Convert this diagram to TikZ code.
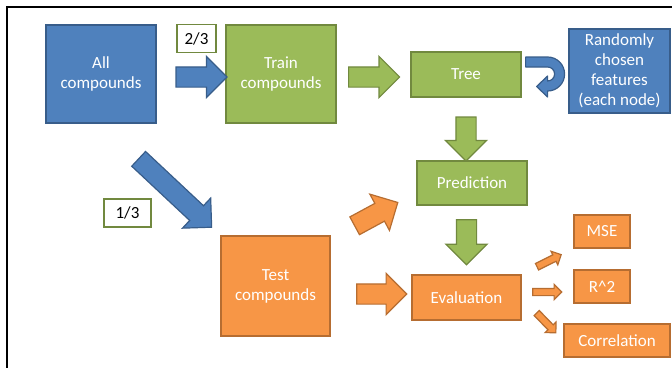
\documentclass[tikz,border=0pt]{standalone}
\usepackage{fontspec}
\setmainfont{Carlito}
\usetikzlibrary{shapes.arrows}

\definecolor{fillblue}{HTML}{4F81BD}
\definecolor{lineblue}{HTML}{385D8A}
\definecolor{fillgreen}{HTML}{9BBB59}
\definecolor{linegreen}{HTML}{71893F}
\definecolor{fillorange}{HTML}{F79646}
\definecolor{lineorange}{HTML}{B66D31}

\begin{document}
\begin{tikzpicture}[x=1pt, y=-1pt,
    box/.style={draw, line width=1.2pt, text=white, align=center, inner sep=0pt, font=\fontsize{17}{20}\selectfont},
    bluebox/.style={box, fill=fillblue, draw=lineblue},
    greenbox/.style={box, fill=fillgreen, draw=linegreen},
    orangebox/.style={box, fill=fillorange, draw=lineorange},
    frac/.style={draw=linegreen, line width=1.2pt, fill=white, inner sep=0pt, font=\fontsize{17}{20}\selectfont},
    barrow/.style={single arrow, sloped, allow upside down, inner xsep=0pt, inner ysep=9.5pt,
      single arrow head extend=10.5pt, line width=1.2pt},
    sarrow/.style={barrow, inner ysep=3pt, single arrow head extend=4pt},
    blue/.style={fill=fillblue, draw=lineblue},
    green/.style={fill=fillgreen, draw=linegreen},
    orange/.style={fill=fillorange, draw=lineorange}
  ]
    \useasboundingbox (0,0) rectangle (672,368);
    \draw[line width=1.6pt] (672,7) -- (7,7) -- (7,368);

    \node[bluebox, minimum width=110, minimum height=98] (all) at (101,74) {All\\compounds};
    \node[greenbox, minimum width=110, minimum height=98] (train) at (281,74) {Train\\compounds};
    \node[greenbox, minimum width=110, minimum height=45] (tree) at (466,74.5) {Tree};
    \node[bluebox, minimum width=101, minimum height=84] (feat) at (619.5,71) {Randomly\\chosen\\features\\(each node)};
    \node[greenbox, minimum width=110, minimum height=44] (pred) at (472,183) {Prediction};
    \node[orangebox, minimum width=109, minimum height=100] (test) at (275.5,286) {Test\\compounds};
    \node[orangebox, minimum width=109, minimum height=45] (eval) at (466.5,297.5) {Evaluation};
    \node[orangebox, minimum width=56, minimum height=33] (mse) at (602,231.5) {MSE};
    \node[orangebox, minimum width=56, minimum height=33] (rsq) at (602,286.5) {R\^{}2};
    \node[orangebox, minimum width=106, minimum height=33] (corr) at (617,340.5) {Correlation};

    \node[frac, minimum width=39, minimum height=28] (twothirds) at (196.5,38.5) {2/3};
    \node[frac, minimum width=47, minimum height=28] (onethird) at (127.5,213) {1/3};

    \path ([yshift=-3pt]all.east) -- ([yshift=-3pt]train.west)
      node[barrow, blue, pos=0.58, minimum height=51] (split) {};
    \path (all.south) -- (test.north west)
      node[barrow, blue, pos=0.59, minimum height=100] (hold) {};
    \path ([yshift=-3pt]train.east) -- ([yshift=-3pt]train.east -| tree.west)
      node[barrow, green, pos=0.44, minimum height=51] (grow) {};
    \path (tree.south) -- (tree.south |- pred.north)
      node[barrow, green, pos=0.58, minimum height=44] (apply) {};
    \path (eval.north |- pred.south) -- (eval.north)
      node[barrow, green, pos=0.46, minimum height=45] (score) {};
    \path ([yshift=3.5pt]eval.west -| test.east) -- ([yshift=3.5pt]eval.west)
      node[barrow, orange, pos=0.57, minimum height=50] (truth) {};
    \path ([yshift=-3.4pt]test.north east) -- ([yshift=-9.4pt]pred.west)
      node[barrow, orange, pos=0.48, minimum height=49] (input) {};

    \path (eval.north east) -- (mse.south west)
      node[sarrow, orange, pos=0.5, minimum height=27] (tomse) {};
    \path ([yshift=5.5pt]eval.east) -- ([yshift=5.5pt]eval.east -| rsq.west)
      node[sarrow, orange, pos=0.46, minimum height=29] (torsq) {};
    \path (eval.east) -- (corr.west)
      node[sarrow, orange, pos=0.56, minimum height=27.5] (tocorr) {};

    \begin{scope}[shift={(tree.east)}]
      \filldraw[blue, line width=1.2pt, line join=round]
        (4,-17.5) -- (26,-17.5) .. controls (35.4,-17.5) and (43,-9.9) .. (43,-0.5)
        .. controls (43,8.9) and (35.4,16.5) .. (26,16.5) -- (26,22.5) -- (15,12)
        -- (26,1.5) -- (26,6.5) .. controls (29.9,6.5) and (33,3.4) .. (33,-0.5)
        .. controls (33,-4.4) and (29.9,-7.5) .. (26,-7.5) -- (4,-7.5) -- cycle;
    \end{scope}
\end{tikzpicture}
\end{document}
